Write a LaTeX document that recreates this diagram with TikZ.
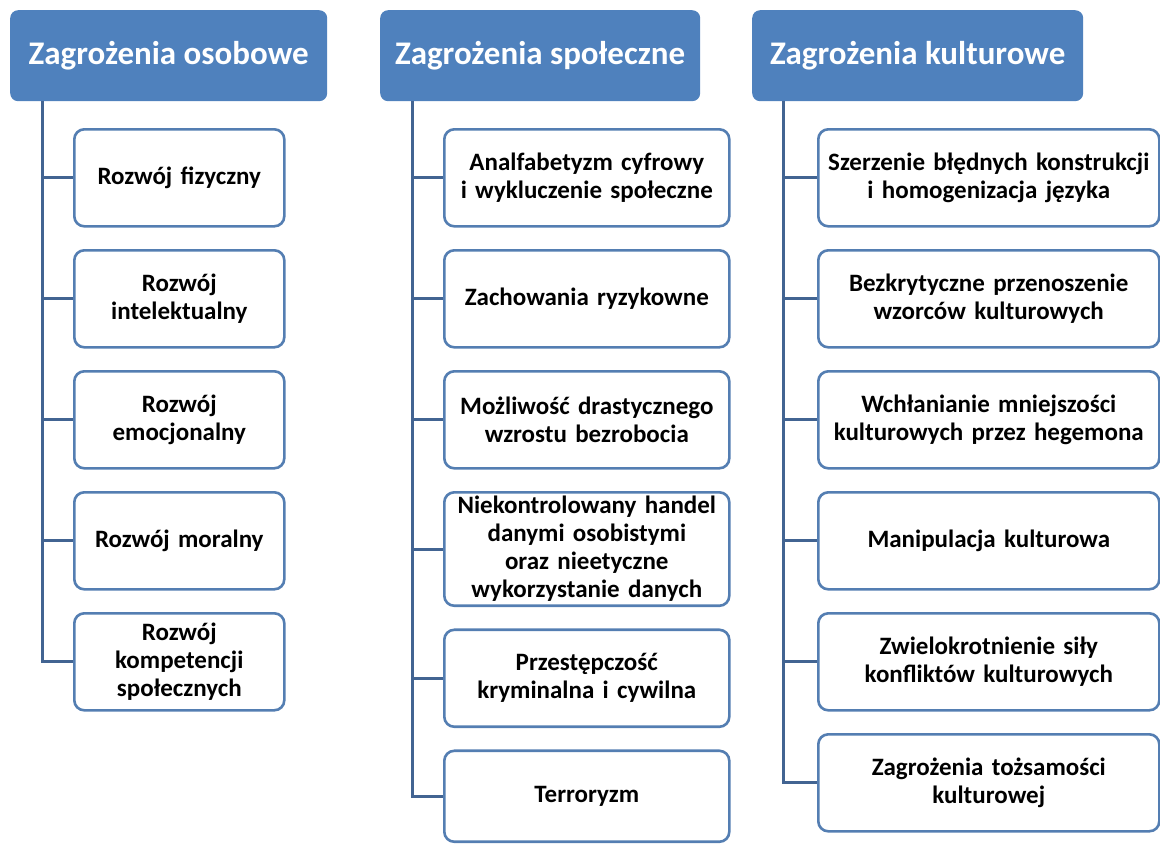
\documentclass[tikz,border=0pt]{standalone}
\usepackage{fontspec}
\setmainfont{Carlito}
\usepackage{tikz}
\usetikzlibrary{positioning}

\definecolor{headblue}{RGB}{79,129,189}
\definecolor{boxblue}{RGB}{84,126,178}
\definecolor{linkblue}{RGB}{66,100,146}

\begin{document}
\begin{tikzpicture}[
        x=1pt, y=1pt,
        node distance=21.4pt,
        head/.style={rectangle,rounded corners=8pt,fill=headblue,text=white,
            font=\fontsize{33}{38}\selectfont\bfseries,
            minimum height=91pt,anchor=north west},
        item/.style={rectangle,rounded corners=10pt,draw=boxblue,line width=2.6pt,fill=white,
            font=\fontsize{25}{28}\selectfont\bfseries,align=center,
            inner xsep=3pt,inner ysep=4pt,minimum height=97pt},
        col1/.style={item,text width=204pt},
        col2/.style={item,text width=279pt},
        col3/.style={item,text width=335pt},
        link/.style={draw=linkblue,line width=3pt}
    ]
    \useasboundingbox (0,0) rectangle (1160,-847);

    \node[head,minimum width=317pt] (h1) at (10,-10) {Zagrożenia osobowe};
    \node[head,minimum width=320pt] (h2) at (380,-10) {Zagrożenia społeczne};
    \node[head,minimum width=331pt] (h3) at (752,-10) {Zagrożenia kulturowe};

    \node[col1,anchor=north west] (o1) at (73,-128) {Rozwój fizyczny};
    \node[col1,below=of o1] (o2) {Rozwój\\intelektualny};
    \node[col1,below=of o2] (o3) {Rozwój\\emocjonalny};
    \node[col1,below=of o3] (o4) {Rozwój moralny};
    \node[col1,below=of o4] (o5) {Rozwój\\kompetencji\\społecznych};

    \node[col2,anchor=north west] (s1) at (443,-128) {Analfabetyzm cyfrowy\\i wykluczenie społeczne};
    \node[col2,below=of s1] (s2) {Zachowania ryzykowne};
    \node[col2,below=of s2] (s3) {Możliwość drastycznego\\wzrostu bezrobocia};
    \node[col2,below=of s3] (s4) {Niekontrolowany handel\\danymi osobistymi\\oraz nieetyczne\\wykorzystanie danych};
    \node[col2,below=of s4] (s5) {Przestępczość\\kryminalna i cywilna};
    \node[col2,below=of s5,minimum height=91pt] (s6) {Terroryzm};

    \node[col3,anchor=north west] (k1) at (817,-128) {Szerzenie błędnych konstrukcji\\i homogenizacja języka};
    \node[col3,below=of k1] (k2) {Bezkrytyczne przenoszenie\\wzorców kulturowych};
    \node[col3,below=of k2] (k3) {Wchłanianie mniejszości\\kulturowych przez hegemona};
    \node[col3,below=of k3] (k4) {Manipulacja kulturowa};
    \node[col3,below=of k4] (k5) {Zwielokrotnienie siły\\konfliktów kulturowych};
    \node[col3,below=of k5] (k6) {Zagrożenia tożsamości\\kulturowej};

    % trunks under the headers
    \coordinate (t1) at ([xshift=32pt]h1.south west);
    \coordinate (t2) at ([xshift=32pt]h2.south west);
    \coordinate (t3) at ([xshift=31pt]h3.south west);

    \draw[link] (t1) |- (o5.west);
    \foreach \i in {1,...,4} \draw[link] (t1 |- o\i.west) -- (o\i.west);

    \draw[link] (t2) |- (s6.west);
    \foreach \i in {1,...,5} \draw[link] (t2 |- s\i.west) -- (s\i.west);

    \draw[link] (t3) |- (k6.west);
    \foreach \i in {1,...,5} \draw[link] (t3 |- k\i.west) -- (k\i.west);
\end{tikzpicture}
\end{document}
